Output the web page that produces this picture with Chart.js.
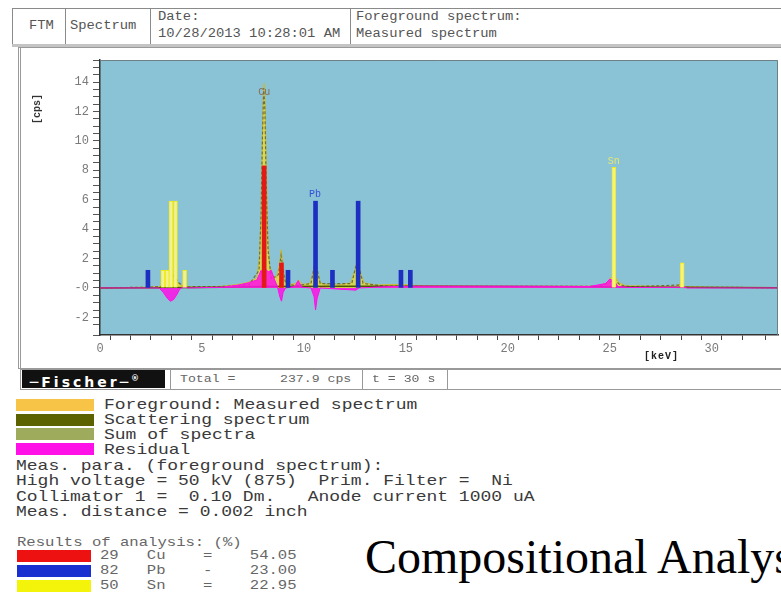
<!DOCTYPE html>
<html>
<head>
<meta charset="utf-8">
<script src="https://cdn.jsdelivr.net/npm/chart.js@4.4.1/dist/chart.umd.min.js"></script>
<style>
  body { margin: 0; width: 781px; height: 598px; background: #fff; position: relative; overflow: hidden; font-family: "Liberation Mono", monospace; }
  .abs { position: absolute; }
  .mono { white-space: pre; transform-origin: left center; transform: scaleX(1.2); }
  #head { left: 12px; top: 8px; width: 790px; height: 35px; border: 1px solid #8a8a8a; }
  #head .cell { position: absolute; top: 0; height: 35px; border-right: 1px solid #8a8a8a; }
  #head .t { position: absolute; font-size: 12px; color: #555; white-space: pre; transform-origin: left center; transform: scaleX(1.15); }
  #band { left: 12px; top: 44px; width: 790px; height: 3px; background: #c4c4c4; }
  #frame { left: 18px; top: 47px; width: 790px; height: 320px; border: 1px solid #999; border-left: 3px double #999; }
  #chartBox { left: 20px; top: 45px; width: 761px; height: 322px; }
  #foot { left: 20px; top: 369px; width: 790px; height: 19px; border: 1px solid #999; }
  #logo { left: 22px; top: 370px; width: 143px; height: 18px; background: #111; color: #fff; font: bold 14px "DejaVu Sans", sans-serif; letter-spacing: 3px; line-height: 18px; }
  .ft { font-size: 11px; color: #666; top: 373px; }
  .leg { font-size: 15px; color: #3a3a3a; line-height: 15px; }
  .sw { left: 16px; width: 78px; height: 12px; }
  .res { font-size: 13px; color: #666; line-height: 14px; }
  .rsw { left: 17px; width: 74px; height: 12px; }
</style>
</head>
<body>
<div id="head" class="abs">
  <div class="cell" style="left:0;width:52px"></div>
  <div class="cell" style="left:52px;width:85px"></div>
  <div class="cell" style="left:137px;width:200px"></div>
  <div class="t" style="left:16px;top:10px">FTM</div>
  <div class="t" style="left:57px;top:10px">Spectrum</div>
  <div class="t" style="left:145px;top:1px">Date:</div>
  <div class="t" style="left:145px;top:18px">10/28/2013 10:28:01 AM</div>
  <div class="t" style="left:343px;top:1px">Foreground spectrum:</div>
  <div class="t" style="left:343px;top:18px">Measured spectrum</div>
</div>
<div id="band" class="abs"></div>
<div id="frame" class="abs"></div>
<div id="chartBox" class="abs"><canvas id="grafica" width="761" height="322"></canvas></div>
<div class="abs" style="left:32px;top:124px;font:bold 10px 'Liberation Mono',monospace;color:#333;transform:rotate(-90deg);transform-origin:left top">[cps]</div>
<div class="abs" style="left:644px;top:351px;font:bold 10px 'Liberation Mono',monospace;color:#222;letter-spacing:1px">[keV]</div>

<div id="foot" class="abs"></div>
<div id="logo" class="abs">&nbsp;&#x2500;Fischer&#x2500;<sup style="font-size:8px">&reg;</sup></div>
<div class="abs" style="left:170px;top:369px;width:1px;height:20px;background:#999"></div>
<div class="abs" style="left:362px;top:369px;width:1px;height:20px;background:#999"></div>
<div class="abs" style="left:447px;top:369px;width:1px;height:20px;background:#999"></div>
<div class="abs mono ft" style="left:180px">Total =</div>
<div class="abs mono ft" style="left:280px">237.9 cps</div>
<div class="abs mono ft" style="left:372px">t = 30 s</div>

<div class="abs sw" style="top:399px;background:#f8c448"></div>
<div class="abs sw" style="top:414px;background:#5c6200"></div>
<div class="abs sw" style="top:428px;background:#9eab5c"></div>
<div class="abs sw" style="top:443px;background:#ff10e6"></div>
<div class="abs mono leg" style="left:104px;top:398px">Foreground: Measured spectrum</div>
<div class="abs mono leg" style="left:104px;top:413px">Scattering spectrum</div>
<div class="abs mono leg" style="left:104px;top:428px">Sum of spectra</div>
<div class="abs mono leg" style="left:104px;top:443px">Residual</div>
<div class="abs mono leg" style="left:16px;top:459px">Meas. para. (foreground spectrum):</div>
<div class="abs mono leg" style="left:16px;top:474px">High voltage = 50 kV (875)  Prim. Filter =  Ni</div>
<div class="abs mono leg" style="left:16px;top:490px">Collimator 1 =  0.10 Dm.   Anode current 1000 uA</div>
<div class="abs mono leg" style="left:16px;top:505px">Meas. distance = 0.002 inch</div>

<div class="abs mono res" style="left:17px;top:536px">Results of analysis: (%)</div>
<div class="abs rsw" style="top:550px;background:#ee1111"></div>
<div class="abs rsw" style="top:565px;background:#1a2fd0"></div>
<div class="abs rsw" style="top:580px;background:#f4f40a"></div>
<div class="abs mono res" style="left:100px;top:549px">29   Cu    =    54.05</div>
<div class="abs mono res" style="left:100px;top:564px">82   Pb    -    23.00</div>
<div class="abs mono res" style="left:100px;top:579px">50   Sn    =    22.95</div>

<div class="abs" style="left:365px;top:529px;font:48px 'Liberation Serif',serif;color:#000;white-space:pre">Compositional Analysis</div>

<script>
// espectro medido, suma, dispersion y residuo: [keV, cps]
const measured = [[0,0],[1.5,0.03],[2.3,0.05],[2.9,0.08],[3.1,0.2],[3.3,0.35],[3.45,0.6],[3.6,0.5],[3.75,0.4],[3.95,0.2],[4.2,0.08],[5,0.05],[6,0.12],[6.8,0.25],[7.3,0.4],[7.7,0.7],[7.82,2.2],[7.9,5],[7.96,10],[8.01,13.2],[8.05,13.9],[8.1,12.6],[8.16,8],[8.23,3.6],[8.32,1.5],[8.45,0.9],[8.65,0.7],[8.8,1.6],[8.88,2.6],[8.96,1.8],[9.05,0.6],[9.3,0.25],[9.6,0.3],[9.75,0.55],[9.9,0.25],[10.3,0.3],[10.45,1.1],[10.55,1.8],[10.65,1.1],[10.8,0.35],[11.2,0.2],[11.45,0.3],[11.7,0.2],[12.3,0.35],[12.5,1.2],[12.62,1.95],[12.74,1.2],[12.95,0.35],[13.5,0.2],[14.76,0.25],[15.2,0.2],[16,0.15],[20,0.12],[24.4,0.12],[24.85,0.35],[25.05,0.7],[25.25,0.8],[25.45,0.35],[25.8,0.15],[28.2,0.1],[28.45,0.25],[28.7,0.1],[30,0.05],[33.25,0.03]];
const sumSpectra = [[0,0],[2.3,0.05],[3.0,0.1],[3.3,0.6],[3.45,1.0],[3.65,0.8],[3.9,0.3],[4.3,0.08],[6,0.1],[7.3,0.2],[7.8,1.2],[7.9,5],[7.97,10.5],[8.03,13.6],[8.09,12],[8.15,7],[8.24,2.6],[8.4,0.6],[8.75,0.9],[8.88,2.2],[8.98,1.2],[9.1,0.3],[9.6,0.15],[10.35,0.3],[10.47,1.2],[10.56,1.9],[10.66,1.2],[10.8,0.3],[12.35,0.3],[12.5,1.2],[12.62,1.9],[12.74,1.2],[12.9,0.3],[14,0.12],[24.5,0.1],[25.0,0.4],[25.25,0.55],[25.5,0.2],[26,0.08],[28.45,0.2],[28.7,0.05],[33.25,0.02]];
const scattering = [[0,0],[3,0.02],[6,0.05],[8,0.1],[12,0.12],[16,0.12],[20,0.1],[24,0.08],[28,0.05],[33.25,0.02]];
const residual = [[0,0],[2.9,0],[3.1,-0.3],[3.3,-0.7],[3.45,-0.9],[3.6,-0.8],[3.75,-0.5],[3.9,-0.1],[4.1,0.1],[4.3,0],[6,0.05],[6.8,0.2],[7.3,0.35],[7.7,0.55],[7.9,1.2],[8.0,0.7],[8.1,1.3],[8.25,1.1],[8.4,1.2],[8.55,0.6],[8.7,0.1],[8.82,-0.6],[8.9,-0.9],[8.98,-0.3],[9.1,0],[9.55,0.1],[9.72,0.5],[9.9,0.05],[10.35,0],[10.5,-0.6],[10.57,-1.5],[10.65,-0.7],[10.8,0],[12.55,-0.15],[12.7,0],[14,0.08],[15.5,0.12],[20,0.12],[24,0.1],[24.8,0.3],[25.0,0.6],[25.2,0.5],[25.4,0.1],[26,0.03],[28.4,0.05],[28.6,0.1],[28.8,0],[33.25,0]];

// lineas de elementos
const cuKeV = [8.05, 8.9];
const cuCps = [8.3, 1.7];
const pbKeV = [2.35, 9.22, 10.57, 11.4, 12.66, 14.76, 15.22];
const pbCps = [1.2, 1.2, 5.9, 1.2, 5.9, 1.2, 1.2];
const snKeV = [3.08, 3.3, 3.48, 3.7, 4.15, 25.2, 28.55];
const snCps = [1.2, 1.2, 5.9, 5.9, 1.2, 8.2, 1.7];

// etiquetas de picos
const peakNames = ['Cu', 'Pb', 'Sn'];
const peakKeV = [8.05, 10.55, 25.2];
const peakCps = [13.3, 6.35, 8.6];
const peakColors = ['#8a6c55', '#3550d8', '#e4e870'];

// ticks
const xLabelValues = [0, 5, 10, 15, 20, 25, 30];
const yLabelValues = [-2, 0, 2, 4, 6, 8, 10, 12, 14];
const yLabelText = ['-2', '-0', '2', '4', '6', '8', '10', '12', '14'];

const toXY = arr => arr.map(([x, y]) => ({ x, y }));
const toBars = (xs, ys) => xs.map((x, i) => ({ x, y: ys[i] }));

const fondo = {
    id: 'fondo',
    beforeDraw(chart) {
        const { ctx, chartArea: a } = chart;
        ctx.save();
        ctx.fillStyle = '#8bc3d6';
        ctx.fillRect(a.left, a.top, a.right - a.left, a.bottom - a.top);
        ctx.restore();
    },
    afterDraw(chart) {
        const { ctx, chartArea: a } = chart;
        ctx.save();
        ctx.strokeStyle = '#6f7f86';
        ctx.lineWidth = 1;
        ctx.beginPath();
        ctx.moveTo(a.left, a.top + 0.5);
        ctx.lineTo(a.right - 0.5, a.top + 0.5);
        ctx.lineTo(a.right - 0.5, a.bottom);
        ctx.stroke();
        ctx.restore();
    }
};

const etiquetas = {
    id: 'etiquetas',
    afterDatasetsDraw(chart) {
        const { ctx, scales } = chart;
        ctx.save();
        ctx.font = '10px "Liberation Mono", monospace';
        ctx.textAlign = 'center';
        ctx.textBaseline = 'middle';
        peakNames.forEach((n, i) => {
            ctx.fillStyle = peakColors[i];
            ctx.fillText(n, scales.x.getPixelForValue(peakKeV[i]), scales.y.getPixelForValue(peakCps[i]));
        });
        ctx.restore();
    }
};

const grafi = document.getElementById('grafica');
const confi = {
    type: 'line',
    data: {
        datasets: [
            { type: 'bar', label: 'Pb', data: toBars(pbKeV, pbCps), backgroundColor: '#1c2fc0', barThickness: 4, grouped: false, order: 1 },
            { type: 'bar', label: 'Cu', data: toBars(cuKeV, cuCps), backgroundColor: '#e21a16', barThickness: 4, grouped: false, order: 2 },
            { type: 'bar', label: 'Sn', data: toBars(snKeV, snCps), backgroundColor: '#f3f190', borderColor: '#eeea1c', borderWidth: 1, barThickness: 4, grouped: false, order: 3 },
            { label: 'Residual', data: toXY(residual), borderColor: '#ff10e6', backgroundColor: 'rgba(255,16,230,0.85)', borderWidth: 1, fill: 'origin', pointRadius: 0, order: 4 },
            { label: 'Scattering spectrum', data: toXY(scattering), borderColor: '#4d5300', borderWidth: 1.5, fill: false, pointRadius: 0, order: 5 },
            { label: 'Sum of spectra', data: toXY(sumSpectra), borderColor: '#6e7238', borderDash: [3, 2], borderWidth: 1.2, fill: false, pointRadius: 0, order: 6 },
            { label: 'Foreground: Measured spectrum', data: toXY(measured), borderColor: '#c9b840', backgroundColor: 'rgba(222,218,70,0.9)', borderWidth: 1, fill: 'origin', pointRadius: 0, order: 7 }
        ]
    },
    options: {
        responsive: false,
        animation: false,
        layout: { padding: { top: 15, right: 3, left: 0, bottom: 0 } },
        plugins: { legend: { display: false }, tooltip: { enabled: false } },
        scales: {
            x: {
                type: 'linear', min: 0, max: 33.25, offset: false,
                afterFit(s) { s.height = 32; },
                border: { color: '#333', width: 1.5 },
                grid: { drawOnChartArea: false, tickColor: '#444', tickLength: 5 },
                ticks: {
                    stepSize: 1, autoSkip: false, maxRotation: 0, padding: 2, color: '#7a7a7a',
                    font: { family: 'Liberation Mono', size: 12 },
                    callback: v => xLabelValues.some(l => Math.abs(l - v) < 1e-6) ? String(v) : ''
                }
            },
            y: {
                min: -3.2, max: 15.5,
                afterFit(s) { s.width = 80; },
                border: { color: '#333', width: 1.5 },
                grid: {
                    color: c => (c.tick && Math.abs(c.tick.value) < 1e-6) ? '#3a3a3a' : 'rgba(0,0,0,0)',
                    tickColor: '#555', tickLength: 7
                },
                ticks: {
                    stepSize: 0.5, autoSkip: false, padding: 4, color: '#7a7a7a',
                    font: { family: 'Liberation Mono', size: 12 },
                    callback: v => {
                        const i = yLabelValues.findIndex(l => Math.abs(l - v) < 1e-6);
                        return i >= 0 ? yLabelText[i] : '';
                    }
                }
            }
        }
    },
    plugins: [fondo, etiquetas]
};
new Chart(grafi, confi);
</script>
</body>
</html>
